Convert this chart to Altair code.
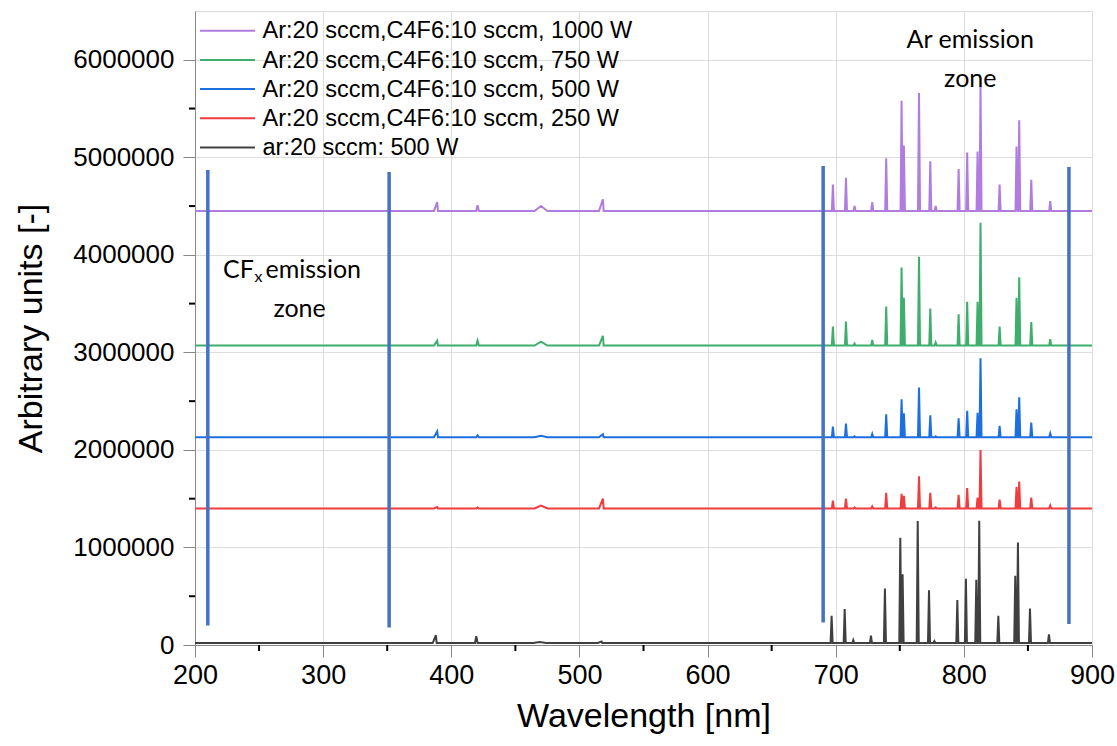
import altair as alt
import pandas as pd

# ---- spectra -------------------------------------------------------------
SERIES = [
    "Ar:20 sccm,C4F6:10 sccm, 1000 W",
    "Ar:20 sccm,C4F6:10 sccm, 750 W",
    "Ar:20 sccm,C4F6:10 sccm, 500 W",
    "Ar:20 sccm,C4F6:10 sccm, 250 W",
    "ar:20 sccm: 500 W",
]
COLORS = ["#b07ce0", "#3dae6c", "#1c6fe0", "#f03c3f", "#404040"]
BASELINES = [4450000, 3070000, 2130000, 1400000, 20000]
SHIFT_NM = [0.0, 0.0, 0.0, 0.0, -1.0]

# Ar I emission lines (nm)
AR_LINES_NM = [697.8, 708.0, 714.7, 728.5, 739.4, 751.4, 753.2, 765.0, 773.8, 778.0,
               795.9, 802.6, 810.7, 813.0, 827.9, 841.1, 843.2, 852.6, 867.4]
PEAKS_1000W = [4720000, 4790000, 4500000, 4540000, 4990000, 5580000, 5120000, 5660000, 4960000, 4500000,
               4880000, 5050000, 5060000, 5720000, 4720000, 5110000, 5380000, 4770000, 4550000]
PEAKS_750W = [3265000, 3316000, 3090000, 3128000, 3470000, 3870000, 3560000, 3980000, 3450000, 3100000,
              3390000, 3520000, 3520000, 4330000, 3265000, 3560000, 3770000, 3310000, 3135000]
PEAKS_500W = [2240000, 2270000, 2140000, 2164000, 2366000, 2520000, 2376000, 2640000, 2356000, 2140000,
              2325000, 2400000, 2380000, 2940000, 2246000, 2417000, 2540000, 2280000, 2170000]
PEAKS_250W = [1480000, 1500000, 1410000, 1420000, 1560000, 1550000, 1530000, 1730000, 1560000, 1410000,
              1540000, 1610000, 1510000, 2000000, 1490000, 1620000, 1675000, 1510000, 1430000]
PEAKS_AR_ONLY = [300000, 370000, 50000, 95000, 580000, 1100000, 725000, 1270000, 560000, 40000,
                 460000, 680000, 670000, 1275000, 300000, 710000, 1050000, 375000, 110000]
AR_PEAKS = [PEAKS_1000W, PEAKS_750W, PEAKS_500W, PEAKS_250W, PEAKS_AR_ONLY]

# molecular bands (CN / CF / C2) in the short-wavelength part
BAND_NM = [389.0, 420.5, 470.0, 518.3]
BAND_1000W = [4540000, 4510000, 4500000, 4570000]
BAND_750W = [3120000, 3120000, 3110000, 3170000]
BAND_500W = [2190000, 2150000, 2145000, 2160000]
BAND_250W = [1415000, 1410000, 1430000, 1500000]
BAND_AR_ONLY = [100000, 90000, 30000, 35000]
BAND_PEAKS = [BAND_1000W, BAND_750W, BAND_500W, BAND_250W, BAND_AR_ONLY]
BAND_WIDTHS = [(2.5, 0.6), (1.0, 1.0), (5.0, 5.0), (3.0, 0.6)]

# zone markers
ZONE_NM = [210.0, 351.5, 690.2, 882.0]
ZONE_TOP = [4870000, 4850000, 4910000, 4900000]
ZONE_BOTTOM = [200000, 180000, 230000, 215000]

X_TICKS = [200, 300, 400, 500, 600, 700, 800, 900]
X_MINOR = [250, 350, 450, 550, 650, 750, 850]
Y_TICKS = [0, 1000000, 2000000, 3000000, 4000000, 5000000, 6000000]
Y_MINOR = [500000, 1500000, 2500000, 3500000, 4500000, 5500000]

W, H = 897, 634
LINE_HALF_WIDTH = 0.8

rows = []
for name, base, shift, peaks, bands in zip(SERIES, BASELINES, SHIFT_NM, AR_PEAKS, BAND_PEAKS):
    pts = [(200.0, base), (900.0, base)]
    for lam, v, (lw, rw) in zip(BAND_NM, bands, BAND_WIDTHS):
        pts += [(lam - lw + shift, base), (lam + shift, v), (lam + rw + shift, base)]
    for lam, v in zip(AR_LINES_NM, peaks):
        pts += [(lam - LINE_HALF_WIDTH + shift, base), (lam + shift, v),
                (lam + LINE_HALF_WIDTH + shift, base)]
    pts.sort()
    for i, (lam, v) in enumerate(pts):
        rows.append({"series": name, "nm": lam, "value": v, "i": i})
spec = pd.DataFrame(rows)

x_scale = alt.Scale(domain=[200, 900], nice=False, zero=False)
y_scale = alt.Scale(domain=[0, 6500000], nice=False)

x_axis = alt.Axis(values=X_TICKS, title="Wavelength [nm]", tickSize=12, labelFontSize=27,
                  labelPadding=5, titleFontSize=34, titleFontWeight="normal", titlePadding=11,
                  labelFlush=False)
y_axis = alt.Axis(values=Y_TICKS, format="d", title="Arbitrary units [-]", tickSize=12,
                  labelFontSize=26, labelPadding=9, titleFontSize=34, titleFontWeight="normal",
                  titlePadding=24)

lines = alt.Chart(spec).mark_line(strokeWidth=2, clip=True).encode(
    x=alt.X("nm:Q", scale=x_scale, axis=x_axis),
    y=alt.Y("value:Q", scale=y_scale, axis=y_axis),
    color=alt.Color("series:N", scale=alt.Scale(domain=SERIES, range=COLORS), legend=None),
    detail="series:N",
    order="i:Q",
)

zones = alt.Chart(pd.DataFrame({"nm": ZONE_NM, "top": ZONE_TOP, "bottom": ZONE_BOTTOM})).mark_rule(
    color="#4472c4", strokeWidth=3.5
).encode(x="nm:Q", y="top:Q", y2="bottom:Q")

x_minor = alt.Chart(pd.DataFrame({"nm": X_MINOR})).mark_rule(color="black", strokeWidth=2).encode(
    x="nm:Q", y=alt.value(H), y2=alt.value(H + 6))
y_minor = alt.Chart(pd.DataFrame({"v": Y_MINOR})).mark_rule(color="black", strokeWidth=2).encode(
    y="v:Q", x=alt.value(-6), x2=alt.value(0))

# zone captions
ar_text = alt.Chart(pd.DataFrame({"t": ["Ar emission", "zone"], "nm": [805.0, 805.0],
                                  "v": [6120000, 5720000]})).mark_text(
    font="Lato", fontSize=25, align="center", baseline="alphabetic", color="black"
).encode(x="nm:Q", y="v:Q", text="t:N")

cf_main = alt.Chart(pd.DataFrame({"t": ["CF"], "nm": [246.0], "v": [3760000]})).mark_text(
    font="Lato", fontSize=25, align="right", baseline="alphabetic", color="black"
).encode(x="nm:Q", y="v:Q", text="t:N")
cf_sub = alt.Chart(pd.DataFrame({"t": ["x"], "nm": [246.4], "v": [3720000]})).mark_text(
    font="Lato", fontSize=16, align="left", baseline="alphabetic", color="black"
).encode(x="nm:Q", y="v:Q", text="t:N")
cf_rest = alt.Chart(pd.DataFrame({"t": ["emission"], "nm": [255.0], "v": [3760000]})).mark_text(
    font="Lato", fontSize=25, align="left", baseline="alphabetic", color="black"
).encode(x="nm:Q", y="v:Q", text="t:N")
cf_zone = alt.Chart(pd.DataFrame({"t": ["zone"], "nm": [281.6], "v": [3360000]})).mark_text(
    font="Lato", fontSize=25, align="center", baseline="alphabetic", color="black"
).encode(x="nm:Q", y="v:Q", text="t:N")

# legend drawn inside the frame, top-left
legend_layers = []
for k, (name, col) in enumerate(zip(SERIES, COLORS)):
    yk = 19.7 + 29.2 * k
    legend_layers.append(
        alt.Chart(pd.DataFrame({"t": [name]})).mark_rule(color=col, strokeWidth=2).encode(
            x=alt.value(5), x2=alt.value(60), y=alt.value(yk)))
    legend_layers.append(
        alt.Chart(pd.DataFrame({"t": [name]})).mark_text(
            font="Liberation Sans", fontSize=23.5, align="left", baseline="alphabetic", color="black"
        ).encode(x=alt.value(67.5), y=alt.value(yk + 7.6), text="t:N"))

chart = alt.layer(
    lines, zones, x_minor, y_minor, ar_text, cf_main, cf_sub, cf_rest, cf_zone, *legend_layers
).properties(
    width=W, height=H,
    autosize=alt.AutoSizeParams(type="none"),
    padding={"left": 195, "top": 11, "right": 25, "bottom": 101},
).configure_view(
    stroke="black", strokeWidth=2
).configure_axis(
    domainColor="black", domainWidth=2, tickColor="black", tickWidth=2,
    labelColor="black", titleColor="black", grid=False,
    labelFont="Liberation Sans", titleFont="Liberation Sans", titleFontWeight="normal",
).configure(background="white")

chart.save("out.html", embed_options={"renderer": "svg", "actions": False})
